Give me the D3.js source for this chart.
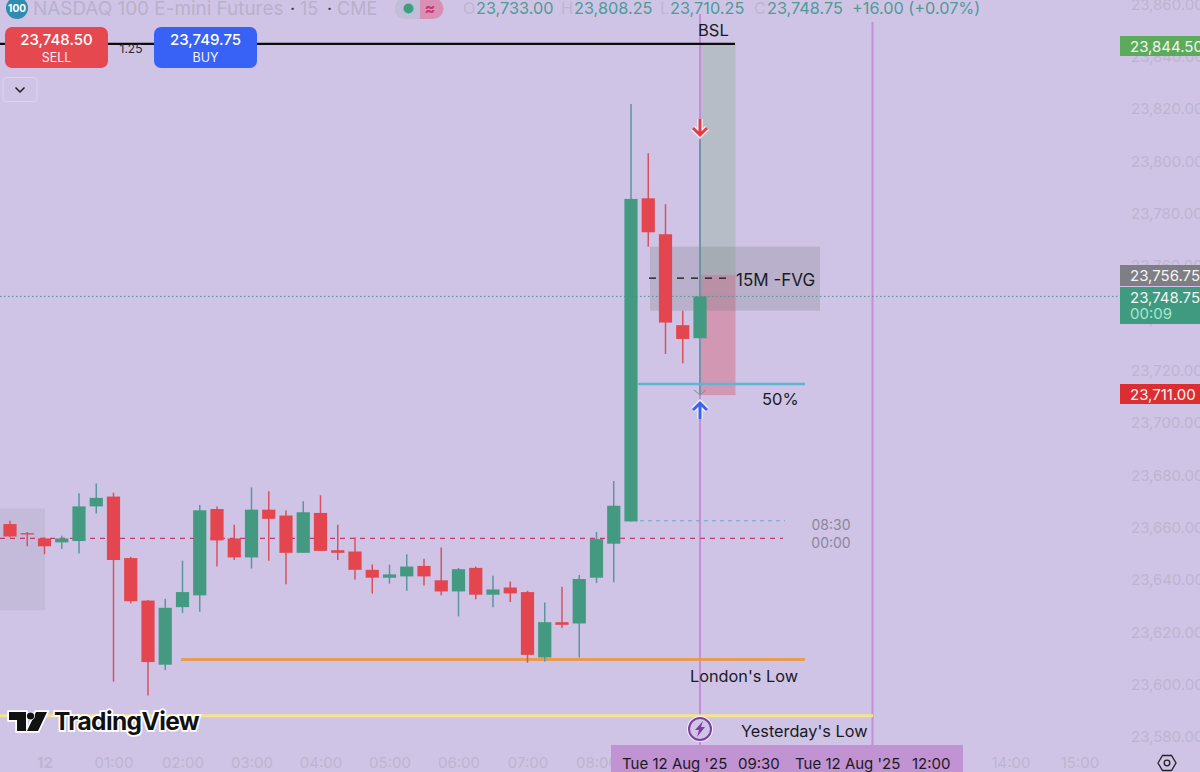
<!DOCTYPE html>
<html><head><meta charset="utf-8">
<script src="https://cdn.jsdelivr.net/npm/d3@7/dist/d3.min.js"></script>
<style>html,body{margin:0;padding:0;background:#cfc4e6;overflow:hidden}svg{display:block;font-family:Inter,"Noto Sans",sans-serif}</style>
</head><body><svg id="c" width="1200" height="772"></svg>
<script>
// ---- data ----
const startMinute = -30; // 23:30 on the previous session day
const barMinutes = 15;
const opens = [23661,23657.5,23655.5,23654,23654.5,23667.75,23671.5,23648,23631.75,23607.25,23629.25,23633.75,23666.75,23655.5,23648.25,23666.5,23664.25,23650,23665.25,23651,23650.5,23643.5,23640.5,23641,23645,23639.5,23635.25,23644.25,23634,23636.75,23635,23610,23623.5,23623,23640.5,23653.5,23662,23785.5,23771.75,23737,23732];
const highs = [23662.25,23658,23656,23656.5,23672.75,23676.5,23673,23648.5,23632,23632.5,23647,23668.25,23667.75,23660.75,23675,23673.5,23666.25,23669.75,23672,23660.75,23656,23645.5,23645.5,23649.5,23647.75,23652,23644.25,23644.75,23641.25,23639,23635.5,23631,23637,23641.5,23658,23677.5,23821.5,23802.75,23783.25,23742.5,23808.25];
const lows = [23656,23652.5,23649.5,23651.5,23649.75,23665,23600.75,23630.75,23595.5,23605.25,23627,23627.5,23644.75,23647.25,23644,23647,23638,23650,23650.75,23647.25,23639.75,23634.5,23638.25,23635.5,23637.5,23633.75,23625.75,23632.25,23629.25,23631.25,23608,23608.5,23621.25,23610,23638.5,23638.75,23662,23767,23726,23722.5,23710.25];
const closes = [23656.25,23657,23652.5,23655.5,23667.75,23671,23647.25,23631.5,23608.25,23629,23635,23666.25,23654.75,23648.25,23666.5,23663,23650,23665.5,23650.75,23650,23643.5,23640.5,23641.75,23644.75,23641,23635.25,23643.75,23634,23636,23634.5,23611,23623.5,23622.5,23640,23655.25,23668,23785.25,23772.5,23738,23731.75,23748];

const priceTicks = [23860,23840,23820,23800,23780,23760,23740,23720,23700,23680,23660,23640,23620,23600,23580];
const timeTicks = [0,60,120,180,240,300,360,420,480,840,900];
const timeLabels = ["12","01:00","02:00","03:00","04:00","05:00","06:00","07:00","08:00","14:00","15:00"];

const bslLevel = 23844.5, targetLevel = 23756.75, currentLevel = 23748, stopLevel = 23711;
const zoneSplit = 23756.25, zoneBottom = 23710.25;
const fvgTop = 23767, fvgBottom = 23742.5, fvgMid = 23755;
const fiftyLevel = 23714.5, blueDash = 23662.25, redDash = 23655.5;
const londonLow = 23609.25, yesterdayLow = 23587.75;
const boxTop = 23667, boxBottom = 23628;
const entryMinute = 570, exitMinute = 720;

// ---- scales ----
const svg = d3.select("#c");
const x = d3.scaleLinear().domain([-60,960]).range([-24.5,1148.5]);
const y = d3.scaleLinear().domain([23820,23580]).range([108,736]);
const xOf = i => x(startMinute + i*barMinutes);

const BG="#cfc4e6", GREEN="#439a80", RED="#e4464f", GWICK="#5a96a0", RWICK="#d9505f", PURPLE="#c48fd8", FAINT="#bdb5d0", INK="#1a1a24";
svg.append("rect").attr("width",1200).attr("height",772).attr("fill",BG);

const hline=(p,x1,x2,col,w,dash)=>svg.append("line").attr("x1",x1).attr("x2",x2).attr("y1",y(p)).attr("y2",y(p)).attr("stroke",col).attr("stroke-width",w).attr("stroke-dasharray",dash||null);
const txt=(t,px,py,size,col,anchor,weight)=>svg.append("text").text(t).attr("x",px).attr("y",py).attr("font-size",size).attr("fill",col).attr("text-anchor",anchor||"start").attr("dominant-baseline","central").attr("font-weight",weight||400);

// axes
const ya = d3.axisRight(y).tickValues(priceTicks).tickSize(0).tickPadding(0).tickFormat(d3.format(",.2f"));
const yg = svg.append("g").attr("transform","translate(1131,1)").call(ya);
yg.select(".domain").remove();
yg.selectAll("text").attr("font-size",15).attr("fill",FAINT).attr("font-family","Inter,sans-serif");
const xa = d3.axisBottom(x).tickValues(timeTicks).tickSize(0).tickPadding(0).tickFormat((d,i)=>timeLabels[i]);
const xg = svg.append("g").attr("transform","translate(0,757)").call(xa);
xg.select(".domain").remove();
xg.selectAll("text").attr("font-size",15).attr("fill",FAINT).attr("font-family","Inter,sans-serif").attr("font-weight",(d,i)=>i===0?700:400);

// zones
svg.append("rect").attr("x",0).attr("width",45).attr("y",y(boxTop)).attr("height",y(boxBottom)-y(boxTop)).attr("fill","#8a8a9a").attr("opacity",.14);
svg.append("rect").attr("x",x(entryMinute)).attr("width",35.5).attr("y",y(bslLevel)).attr("height",y(zoneSplit)-y(bslLevel)).attr("fill","#b6bdc6");
svg.append("rect").attr("x",x(entryMinute)).attr("width",35.5).attr("y",y(zoneSplit)).attr("height",y(zoneBottom)-y(zoneSplit)).attr("fill","#d197b3");

// verticals
svg.append("line").attr("x1",x(entryMinute)).attr("x2",x(entryMinute)).attr("y1",14).attr("y2",745).attr("stroke",PURPLE).attr("stroke-width",2);
svg.append("line").attr("x1",x(exitMinute)).attr("x2",x(exitMinute)).attr("y1",22).attr("y2",745).attr("stroke",PURPLE).attr("stroke-width",2);

// FVG
svg.append("rect").attr("x",650).attr("width",170).attr("y",y(fvgTop)).attr("height",y(fvgBottom)-y(fvgTop)).attr("fill","#7d7d85").attr("opacity",.27);
hline(fvgMid,649,731,"#111",1.4,"7 7");

// dashed / dotted levels
hline(redDash,0,783,"#c23a72",1.3,"5 5");
hline(blueDash,640,785,"#66aacb",1,"4 4");
hline(currentLevel,0,1120,"#5f8f95",1,"1.5 2.5");

// level lines
hline(bslLevel,0,735,"#0c0c0c",2.4);
hline(londonLow,181,805,"#e89c52",3);
hline(yesterdayLow,0,873,"#f3e48c",3);

// candles
const bars = d3.range(opens.length);
const g = svg.append("g");
g.selectAll("line.w").data(bars).join("line").attr("class","w")
 .attr("x1",xOf).attr("x2",xOf).attr("y1",i=>y(highs[i])).attr("y2",i=>y(lows[i]))
 .attr("stroke",i=>closes[i]>=opens[i]?GWICK:RWICK).attr("stroke-width",1.5);
g.selectAll("rect.b").data(bars).join("rect").attr("class","b")
 .attr("x",i=>xOf(i)-6.6).attr("width",13.2)
 .attr("y",i=>y(Math.max(opens[i],closes[i])))
 .attr("height",i=>Math.max(1,Math.abs(y(opens[i])-y(closes[i]))))
 .attr("fill",i=>closes[i]>=opens[i]?GREEN:RED);

// 50% line above candle
hline(fiftyLevel,638,805,"#5fb6d2",2.6);

// chevron marks + arrows
const ex=x(entryMinute);
svg.append("path").attr("d",`M${ex-6},${390} L${ex-1},${394} M${ex+6},${390} L${ex+1},${394}`).attr("stroke","#8a8794").attr("stroke-width",1).attr("fill","none");
const arrow=(cy,dir,col)=>{const p=`M${ex},${cy-8*dir} L${ex},${cy+8*dir} M${ex-7},${cy+1*dir} L${ex},${cy+8*dir} L${ex+7},${cy+1*dir}`;
 svg.append("path").attr("d",p).attr("fill","none").attr("stroke","#f4effa").attr("stroke-width",5.5);
 svg.append("path").attr("d",p).attr("fill","none").attr("stroke",col).attr("stroke-width",3);};
arrow(127,1,"#e23d45"); arrow(411,-1,"#3a63f0");

// annotation text
txt("BSL",698,30,16.5,INK);
txt("15M -FVG",736,280,17,INK);
txt("50%",762,399,16.5,INK);
txt("08:30",831,524,14,"#8a879c","middle");
txt("00:00",831,542,14,"#8a879c","middle");
txt("London's Low",690,676,16.3,INK);
txt("Yesterday's Low",741,731,16.3,INK);

// bolt
svg.append("circle").attr("cx",ex).attr("cy",729).attr("r",13).attr("fill","#f6f1fb");
svg.append("circle").attr("cx",ex).attr("cy",729).attr("r",11).attr("fill",BG).attr("stroke","#7b3fa0").attr("stroke-width",2);
svg.append("path").attr("d",`M${ex+3},${721} L${ex-5},${730} L${ex-1},${730} L${ex-3},${737} L${ex+5},${727} L${ex+1},${727} Z`).attr("fill","#7b3fa0");

// bottom crosshair band
svg.append("rect").attr("x",611).attr("y",745).attr("width",352).attr("height",27).attr("fill","#c293d2");
txt("Tue 12 Aug '25",622,763,15,INK);
txt("09:30",738,763,15,INK);
txt("Tue 12 Aug '25",795,763,15,INK);
txt("12:00",912,763,15,INK);

// price labels
const tag=(p,py,h,col,label,tcol)=>{svg.append("rect").attr("x",1120).attr("y",py).attr("width",80).attr("height",h).attr("fill",col);
 txt(label,1130,py+10,15,tcol||"#f4f4f4");};
const fmt=d3.format(",.2f");
tag(bslLevel,36,20,"#5cab5c",fmt(bslLevel));
tag(targetLevel,265,21,"#7f7e84",fmt(targetLevel));
tag(23748.75,287,37,"#3f9a80",fmt(23748.75));
txt("00:09",1130,313,15,"#a8e6cf");
tag(stopLevel,384,20,"#db2e32",fmt(stopLevel));

// header
svg.append("circle").attr("cx",17).attr("cy",8).attr("r",11).attr("fill","#2f8db0");
txt("100",17,8,10,"#fff","middle",700);
txt("NASDAQ 100 E-mini Futures",33,8,18.9,"#b8b1ca");
txt("·",290,8,18,"#333");
txt("15",300,8,18,"#b8b1ca");
txt("·",327,8,18,"#333");
txt("CME",337,8,18,"#b8b1ca");
svg.append("path").attr("d","M405,-2 H420 V19 H405 A10.5,10.5 0 0 1 405,-2 Z").attr("fill","#c2bdd8");
svg.append("path").attr("d","M420,-2 H433 A10.5,10.5 0 0 1 433,19 H420 Z").attr("fill","#da8fb5");
svg.append("circle").attr("cx",408.5).attr("cy",8.5).attr("r",5).attr("fill","#3d9f7f");
txt("≈",430,8,16,"#c8386f","middle",700);
const OC="#4f9a95", LC="#bdb6cf";
[["O",463,LC],["23,733.00",476,OC],["H",561,LC],["23,808.25",574,OC],["L",660,LC],["23,710.25",670,OC],["C",754,LC],["23,748.75",767,OC],["+16.00 (+0.07%)",852,OC]].forEach(d=>txt(d[0],d[1],8,16.3,d[2]));

// buttons
const btn=(bx,col,a,b)=>{svg.append("rect").attr("x",bx).attr("y",27).attr("width",103).attr("height",41).attr("rx",7).attr("fill",col);
 txt(a,bx+51.5,39.5,15,"#fff","middle",500); txt(b,bx+51.5,57,12.5,"#f3f0ff","middle");};
btn(5,"#e5484f","23,748.50","SELL");
btn(154,"#3862f5","23,749.75","BUY");
txt("1.25",131,48,12,"#2a2a33","middle");
svg.append("rect").attr("x",3).attr("y",77.5).attr("width",34).attr("height",24).attr("rx",3).attr("fill","none").attr("stroke","#dcd5ee").attr("stroke-width",1);
svg.append("path").attr("d","M15.5,87.5 L20,92 L24.5,87.5").attr("fill","none").attr("stroke","#1a1a24").attr("stroke-width",1.5);

// logo
const logo=svg.append("g");
const logoD="M9,712 H26 V731 H17 V720 H9 Z M36,712 H47 L38,731 H27 Z";
logo.append("path").attr("d",logoD).attr("fill","#111").attr("stroke","#fff").attr("stroke-width",3.5).attr("paint-order","stroke");
logo.append("circle").attr("cx",30.5).attr("cy",716).attr("r",3.6).attr("fill","#111").attr("stroke","#fff").attr("stroke-width",1.5).attr("paint-order","stroke");
txt("TradingView",54,721,24.5,"#111","start",700).attr("stroke","#fff").attr("stroke-width",3.5).attr("paint-order","stroke").attr("letter-spacing","-0.6");

// gear
svg.append("path").attr("d","M1158,763 L1162.5,755.5 H1171.5 L1176,763 L1171.5,770.5 H1162.5 Z").attr("fill","none").attr("stroke","#222").attr("stroke-width",1.3);
svg.append("circle").attr("cx",1167).attr("cy",763).attr("r",2.8).attr("fill","none").attr("stroke","#222").attr("stroke-width",1.3);
</script></body></html>
